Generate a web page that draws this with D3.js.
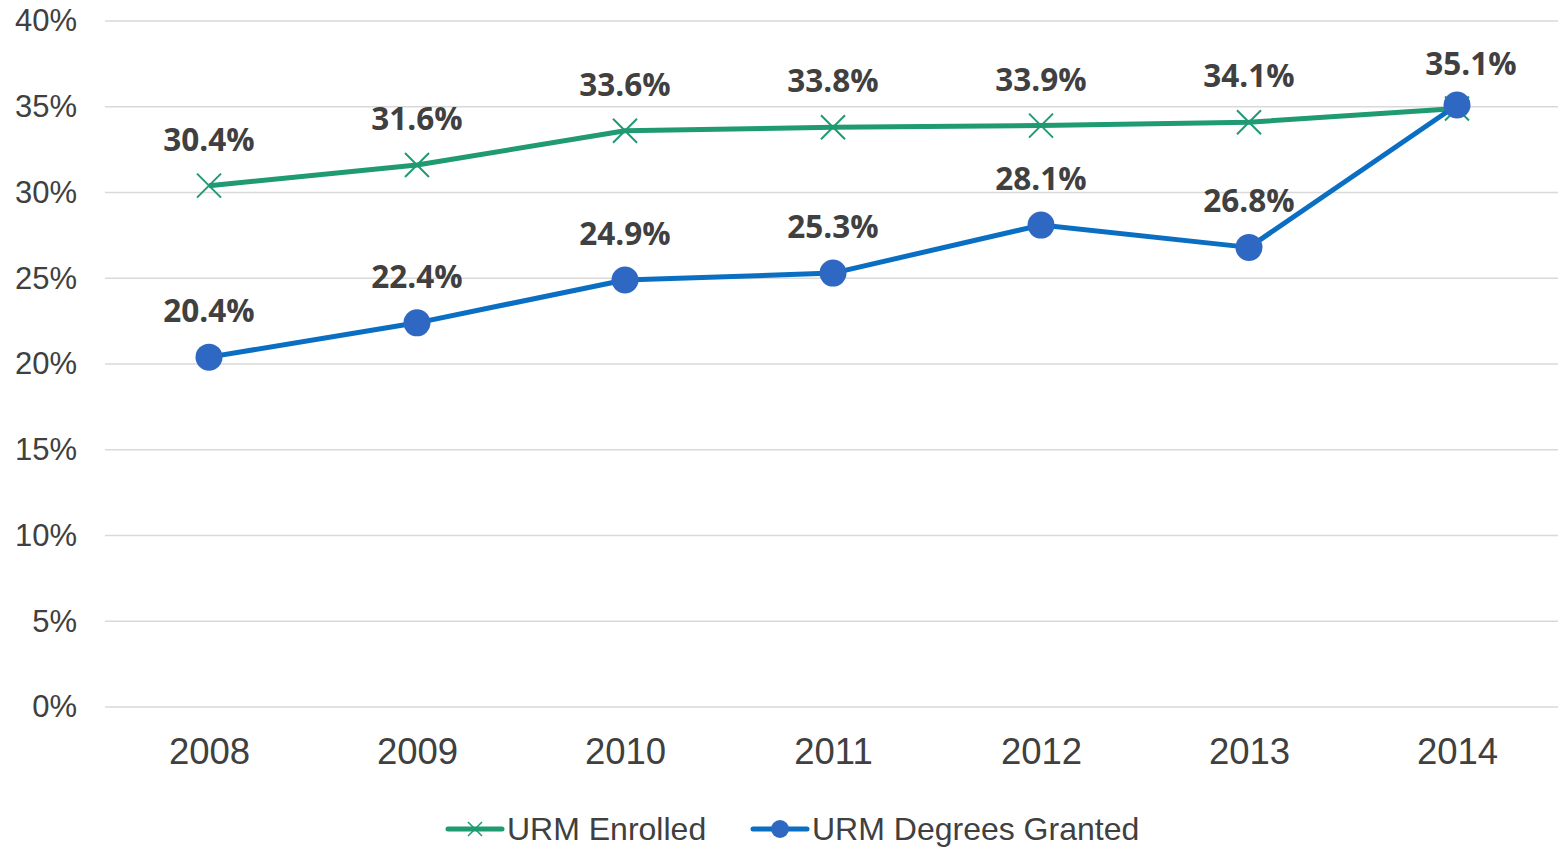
<!DOCTYPE html>
<html>
<head>
<meta charset="utf-8">
<script src="https://cdn.jsdelivr.net/npm/d3@7"></script>
<style>
  body { margin: 0; background: white; }
</style>
</head>
<body>
<div id="chart"></div>
<script>
// Data
const years = ["2008", "2009", "2010", "2011", "2012", "2013", "2014"];
const enrolled = [30.4, 31.6, 33.6, 33.8, 33.9, 34.1, 34.9];
const enrolledLabels = ["30.4%", "31.6%", "33.6%", "33.8%", "33.9%", "34.1%", null];
const degrees = [20.4, 22.4, 24.9, 25.3, 28.1, 26.8, 35.1];
const degreeLabels = ["20.4%", "22.4%", "24.9%", "25.3%", "28.1%", "26.8%", "35.1%"];
const yTicks = [0, 5, 10, 15, 20, 25, 30, 35, 40];

// Chart dimensions
const width = 1558;
const height = 847;
const margin = { top: 21, right: 0, bottom: 140, left: 105 };

const svg = d3.select("#chart").append("svg")
    .attr("width", width)
    .attr("height", height);

const x = d3.scalePoint()
    .domain(years)
    .range([margin.left, width + 3])
    .padding(0.5);

const y = d3.scaleLinear()
    .domain([0, 40])
    .range([height - margin.bottom, margin.top]);

// Gridlines
svg.append("g")
    .selectAll("line")
    .data(yTicks)
    .join("line")
    .attr("x1", margin.left)
    .attr("x2", width - margin.right)
    .attr("y1", d => y(d))
    .attr("y2", d => y(d))
    .attr("stroke", "#d9d9d9")
    .attr("stroke-width", 1.5);

// Y axis labels
const yAxis = svg.append("g")
    .attr("transform", `translate(${margin.left - 28},0)`)
    .call(d3.axisLeft(y).tickValues(yTicks).tickFormat(d => d + "%").tickSize(0).tickPadding(0));
yAxis.select(".domain").remove();
yAxis.selectAll("text")
    .attr("font-family", "Liberation Sans, Arial, sans-serif")
    .attr("font-size", 31)
    .attr("fill", "#404040");

// X axis labels
const xAxis = svg.append("g")
    .attr("transform", `translate(0,${y(0) + 31})`)
    .call(d3.axisBottom(x).tickSize(0).tickPadding(0));
xAxis.select(".domain").remove();
xAxis.selectAll("text")
    .attr("font-family", "Liberation Sans, Arial, sans-serif")
    .attr("font-size", 36.5)
    .attr("fill", "#404040");

const greenColor = "#1f9a72";
const blueLine = "#0a6fc2";
const blueMarker = "#2f68c3";

const line = d3.line()
    .x((d, i) => x(years[i]))
    .y(d => y(d));

// Enrolled line
svg.append("path")
    .datum(enrolled)
    .attr("d", line)
    .attr("fill", "none")
    .attr("stroke", greenColor)
    .attr("stroke-width", 5)
    .attr("stroke-linejoin", "round");

const xSize = 12;
svg.append("g")
    .selectAll("path")
    .data(enrolled)
    .join("path")
    .attr("d", (d, i) => {
        const cx = x(years[i]), cy = y(d);
        return `M${cx - xSize},${cy - xSize}L${cx + xSize},${cy + xSize}M${cx - xSize},${cy + xSize}L${cx + xSize},${cy - xSize}`;
    })
    .attr("stroke", greenColor)
    .attr("stroke-width", 2);

// Degrees line
svg.append("path")
    .datum(degrees)
    .attr("d", line)
    .attr("fill", "none")
    .attr("stroke", blueLine)
    .attr("stroke-width", 5)
    .attr("stroke-linejoin", "round");

svg.append("g")
    .selectAll("circle")
    .data(degrees)
    .join("circle")
    .attr("cx", (d, i) => x(years[i]))
    .attr("cy", d => y(d))
    .attr("r", 13.5)
    .attr("fill", blueMarker);

// Data labels
function addLabels(values, labels) {
    svg.append("g")
        .selectAll("text")
        .data(values.map((v, i) => ({ v, i, t: labels[i] })).filter(d => d.t))
        .join("text")
        .attr("x", d => x(years[d.i]) + (d.i === years.length - 1 ? 14 : 0))
        .attr("y", d => y(d.v) - (d.i === years.length - 1 ? 30 : 35))
        .attr("text-anchor", "middle")
        .attr("font-family", "Open Sans, sans-serif")
        .attr("font-weight", "bold")
        .attr("font-size", 31.5)
        .attr("fill", "#404040")
        .text(d => d.t);
}
addLabels(enrolled, enrolledLabels);
addLabels(degrees, degreeLabels);

// Legend
const legend = svg.append("g").attr("transform", `translate(0,829)`);
const legendItems = [
    { name: "URM Enrolled", color: greenColor, x: 448, marker: "x" },
    { name: "URM Degrees Granted", color: blueLine, x: 753, marker: "circle" }
];
legendItems.forEach(item => {
    legend.append("line")
        .attr("x1", item.x).attr("x2", item.x + 54)
        .attr("y1", 0).attr("y2", 0)
        .attr("stroke", item.color)
        .attr("stroke-width", 5)
        .attr("stroke-linecap", "round");
    const mx = item.x + 27;
    if (item.marker === "x") {
        const s = 7;
        legend.append("path")
            .attr("d", `M${mx - s},${-s}L${mx + s},${s}M${mx - s},${s}L${mx + s},${-s}`)
            .attr("stroke", item.color)
            .attr("stroke-width", 1.5);
    } else {
        legend.append("circle")
            .attr("cx", mx).attr("cy", 0).attr("r", 9)
            .attr("fill", blueMarker);
    }
    legend.append("text")
        .attr("x", item.x + 59)
        .attr("y", 0)
        .attr("dy", "0.35em")
        .attr("font-family", "Liberation Sans, Arial, sans-serif")
        .attr("font-size", 32)
        .attr("fill", "#404040")
        .text(item.name);
});
</script>
</body>
</html>
